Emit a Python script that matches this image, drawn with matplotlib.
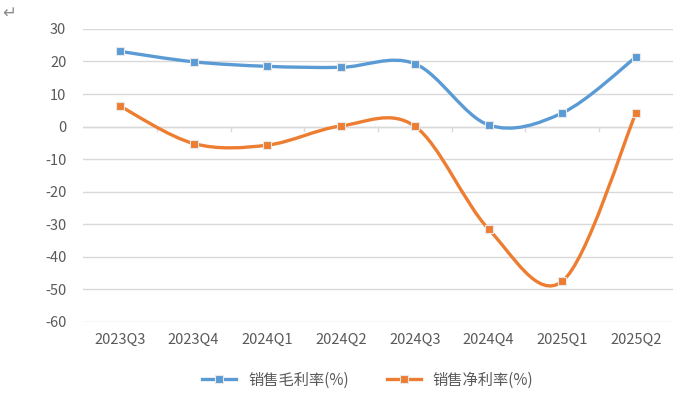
import matplotlib
matplotlib.use('Agg')
import matplotlib.pyplot as plt
from matplotlib.path import Path
from matplotlib.patches import PathPatch
from matplotlib.lines import Line2D
import numpy as np

plt.rcParams['font.family'] = ['Noto Sans CJK SC', 'DejaVu Sans']
plt.rcParams['axes.unicode_minus'] = False

quarters = ['2023Q3', '2023Q4', '2024Q1', '2024Q2', '2024Q3', '2024Q4', '2025Q1', '2025Q2']
gross_margin = [23.1, 19.9, 18.5, 18.2, 19.3, 0.5, 4.2, 21.4]
net_margin = [6.3, -5.2, -5.7, 0.2, 0.1, -31.5, -47.5, 4.3]
series_names = ['销售毛利率(%)', '销售净利率(%)']
colors = ['#5B9BD5', '#ED7D31']
tick_color = '#595959'
grid_color = '#D9D9D9'


def smooth_path(x, y):
    # Excel-style smoothed line: cubic bezier segments through each point
    pts = np.column_stack([x, y]).astype(float)
    verts = [pts[0]]
    codes = [Path.MOVETO]
    n = len(pts)
    for i in range(n - 1):
        p0 = pts[i - 1] if i > 0 else pts[i]
        p1 = pts[i]
        p2 = pts[i + 1]
        p3 = pts[i + 2] if i + 2 < n else pts[i + 1]
        c1 = p1 + (p2 - p0) / 6
        c2 = p2 - (p3 - p1) / 6
        verts += [c1, c2, p2]
        codes += [Path.CURVE4] * 3
    return Path(verts, codes)


fig = plt.figure(figsize=(6.75, 3.96), dpi=100)
ax = fig.add_axes([0.123, 0.187, 0.874, 0.74])

x = np.arange(len(quarters))
for vals, c in zip([gross_margin, net_margin], colors):
    ax.add_patch(PathPatch(smooth_path(x, vals), facecolor='none', edgecolor=c,
                           lw=2.4, capstyle='round', zorder=3))
    ax.plot(x, vals, linestyle='none', marker='s', markersize=5.5, color=c,
            markeredgecolor='#E8E8E8', markeredgewidth=0.8, zorder=4)

ax.set_xlim(-0.5, len(quarters) - 0.5)
ax.set_ylim(-60, 30)
ax.set_yticks(np.arange(-60, 31, 10))
ax.yaxis.grid(True, color=grid_color, lw=1)
ax.set_axisbelow(True)
for s in ax.spines.values():
    s.set_visible(False)
ax.tick_params(axis='y', length=0, labelsize=10.5, colors=tick_color, pad=12)
ax.set_xticks(x)
ax.set_xticklabels(quarters)
ax.tick_params(axis='x', length=0, labelsize=10.5, colors=tick_color, pad=8)

# category axis crossing at zero with tick marks between categories
ax.axhline(0, color=grid_color, lw=1, zorder=1)
for b in np.arange(0.5, len(quarters) - 1, 1.0):
    ax.plot([b, b], [0, -1.5], color=grid_color, lw=1, zorder=1)

handles = [Line2D([0], [0], color=c, lw=2.4, marker='s', markersize=5.5,
                  markeredgecolor='#E8E8E8', markeredgewidth=0.8) for c in colors]
fig.legend(handles, series_names, loc='center', bbox_to_anchor=(0.545, 0.04),
           ncol=2, frameon=False, fontsize=11, labelcolor=tick_color,
           handlelength=2.2, columnspacing=2.5)

fig.text(0.003, 0.955, '↵', fontsize=12, color='#8C8C8C', family='DejaVu Sans')

plt.savefig('out.png', dpi=100)
